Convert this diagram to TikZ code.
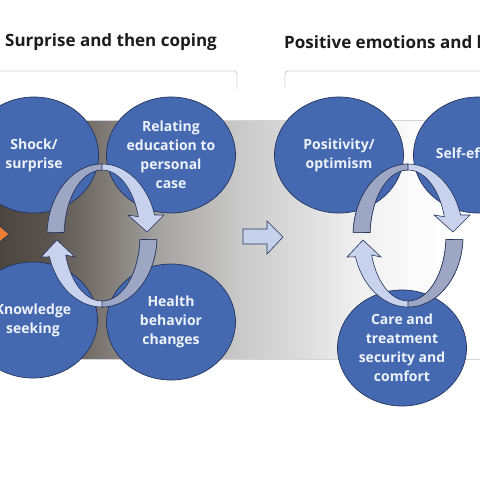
\documentclass[tikz,border=0pt]{standalone}
\usepackage{fontspec}
\setmainfont{Open Sans}
\usetikzlibrary{shapes.geometric, positioning, calc}
\definecolor{StageBlue}{HTML}{4569B1}
\definecolor{StageEdge}{HTML}{24345E}
\definecolor{StageText}{HTML}{EEF2FA}
\definecolor{LoopDark}{HTML}{9DA7C4}
\definecolor{LoopLight}{HTML}{C8D2EC}
\definecolor{BlockFill}{HTML}{C6D1EC}
\definecolor{Accent}{HTML}{ED7D31}
\definecolor{BracketGray}{HTML}{D4D4D4}
\definecolor{TitleInk}{HTML}{1C1C1C}
\pgfdeclarehorizontalshading{stageband}{100bp}{%
  rgb(0bp)=(0.29,0.26,0.24); rgb(25bp)=(0.29,0.26,0.24);
  rgb(30.6bp)=(0.36,0.33,0.31); rgb(35.7bp)=(0.48,0.46,0.44);
  rgb(41.8bp)=(0.65,0.64,0.63); rgb(50bp)=(0.79,0.79,0.79);
  rgb(56.1bp)=(0.86,0.86,0.86); rgb(61.2bp)=(0.93,0.93,0.93);
  rgb(67.3bp)=(0.98,0.98,0.98); rgb(71.4bp)=(1,1,1); rgb(100bp)=(1,1,1)}
\tikzset{
  stage/.style={ellipse, draw=StageEdge, line width=0.7pt, fill=StageBlue,
                minimum width=129pt, minimum height=116pt, inner sep=0pt,
                text=StageText, align=center,
                font=\fontsize{14}{19}\selectfont\bfseries},
  title/.style={anchor=west, inner sep=0pt, text=TitleInk,
                font=\fontsize{17}{20}\selectfont\bfseries},
  bracketline/.style={draw=BracketGray, line width=0.9pt, rounded corners=3pt},
  loopface/.style={draw=StageEdge, line width=0.6pt},
  blockarrow/.style={draw=StageEdge, line width=0.6pt, fill=BlockFill}
}

\begin{document}
\begin{tikzpicture}[x=1pt, y=-1pt]
\useasboundingbox (0,0) rectangle (480,480);
\clip (0,0) rectangle (480,480);

% background band
\path[shading=stageband, draw=BracketGray] (-5,120) rectangle (485,359);

% headings and brackets
\node[title] (titleleft) at (5,42) {Surprise and then coping};
\node[title] (titleright) at (284,42) {Positive emotions and behaviors};
\draw[bracketline] (-5,71) -- (237,71) -- (237,89);
\draw[bracketline] (285,88) -- (285,71) -- (485,71);

% stages
\node[stage] (shock) at (34,155) {Shock/\\surprise};
\node[stage] (relating) at (171,155) {Relating\\education to\\personal\\case};
\node[stage] (knowledge) at (33,320) {Knowledge\\seeking};
\node[stage] (health) at (171,322) {Health\\behavior\\changes};
\node[stage] (positivity) at (339,155) {Positivity/\\optimism};
\node[stage] (selfeff) at (478,155) {Self-efficacy};
\node[stage] (care) at (402,348) {Care and\\treatment\\security and\\comfort};

% cycle arrows
\foreach \cx in {102,408} {
  \path[loopface, fill=LoopLight]
    plot[domain=183:343, samples=40] ({\cx+55*cos(\x)},{236+72*sin(\x)})
    -- ({\cx+62},215) -- ({\cx+45},232) -- ({\cx+26},215)
    -- plot[domain=343:183, samples=40] ({\cx+38*cos(\x)},{236+66*sin(\x)})
    -- cycle;
  \path[loopface, fill=LoopDark]
    plot[domain=183:270, samples=30] ({\cx+55*cos(\x)},{236+72*sin(\x)})
    -- plot[domain=270:183, samples=30] ({\cx+38*cos(\x)},{236+66*sin(\x)})
    -- cycle;
  \path[loopface, fill=LoopLight]
    plot[domain=3:163, samples=40] ({\cx+55*cos(\x)},{236+71*sin(\x)})
    -- ({\cx-61},257) -- ({\cx-45},240) -- ({\cx-27},257)
    -- plot[domain=163:3, samples=40] ({\cx+38*cos(\x)},{236+65*sin(\x)})
    -- cycle;
  \path[loopface, fill=LoopDark]
    plot[domain=3:90, samples=30] ({\cx+55*cos(\x)},{236+71*sin(\x)})
    -- plot[domain=90:3, samples=30] ({\cx+38*cos(\x)},{236+65*sin(\x)})
    -- cycle;
}

% arrows between phases
\path[loopface, fill=Accent] (-12,216) -- (9,234) -- (-12,252) -- cycle;
\path[blockarrow] (243,229) -- (267,229) -- (267,221) -- (283,237)
  -- (267,254) -- (267,244) -- (243,244) -- cycle;
\end{tikzpicture}
\end{document}
